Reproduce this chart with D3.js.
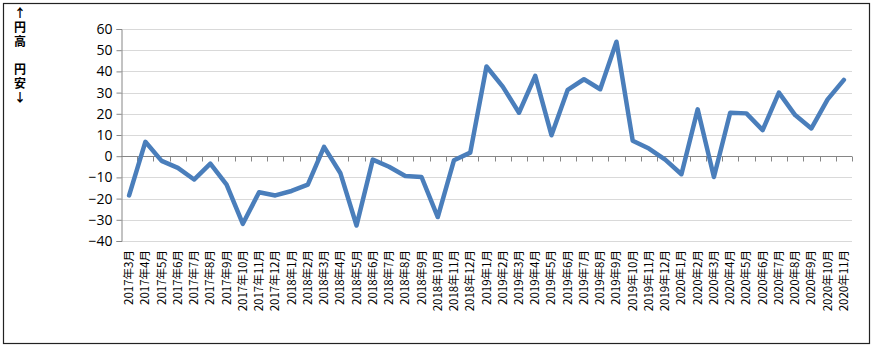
<!DOCTYPE html>
<html>
<head>
<meta charset="utf-8">
<script src="https://cdn.jsdelivr.net/npm/d3@7"></script>
<style>
	body { margin: 0; background: #fff; }
	svg { display: block; }
	.ytick text { font-family: "Open Sans", "Liberation Sans", sans-serif; font-size: 14px; fill: #000; }
	.xlab { font-family: "Noto Sans CJK JP", sans-serif; font-size: 11.5px; fill: #000; }
	.side { font-family: "Noto Sans CJK JP", sans-serif; font-size: 12px; font-weight: bold; writing-mode: vertical-rl; text-orientation: upright; letter-spacing: 2px; }
</style>
</head>
<body>
<div id="chart"></div>
<script>
	// data
	const months = [
		"2017年3月", "2017年4月", "2017年5月", "2017年6月", "2017年7月", "2017年8月", "2017年9月", "2017年10月", "2017年11月", "2017年12月",
		"2018年1月", "2018年2月", "2018年3月", "2018年4月", "2018年5月", "2018年6月", "2018年7月", "2018年8月", "2018年9月", "2018年10月", "2018年11月", "2018年12月",
		"2019年1月", "2019年2月", "2019年3月", "2019年4月", "2019年5月", "2019年6月", "2019年7月", "2019年8月", "2019年9月", "2019年10月", "2019年11月", "2019年12月",
		"2020年1月", "2020年2月", "2020年3月", "2020年4月", "2020年5月", "2020年6月", "2020年7月", "2020年8月", "2020年9月", "2020年10月", "2020年11月"
	];
	const values = [
		-18.5, 6.8, -2.2, -5.5, -11, -3.5, -13.4, -31.9, -17, -18.5,
		-16.4, -13.4, 4.4, -7.9, -32.7, -1.6, -5, -9.3, -9.8, -28.7, -1.9, 1.7,
		42.3, 32.8, 20.5, 37.9, 9.9, 31.3, 36.3, 31.6, 54, 7.3, 3.6, -1.6,
		-8.5, 22.1, -9.8, 20.5, 20.2, 12.3, 30, 19.4, 13.1, 26.8, 36
	];
	const yTicks = [-40, -30, -20, -10, 0, 10, 20, 30, 40, 50, 60];
	const sideLabel = "↑円高　円安↓";

	const width = 876;
	const height = 350;
	const margin = { top: 29, right: 24, bottom: 109, left: 121 };

	const svg = d3
		.select("#chart")
		.append("svg")
		.attr("width", width)
		.attr("height", height);

	// frame
	svg.append("rect")
		.attr("x", 3.5)
		.attr("y", 3.5)
		.attr("width", 866)
		.attr("height", 340)
		.attr("fill", "none")
		.attr("stroke", "#222")
		.attr("stroke-width", 1.2);

	const xScale = d3
		.scaleBand()
		.domain(months)
		.range([margin.left, width - margin.right]);

	const yScale = d3
		.scaleLinear()
		.domain([-40, 60])
		.range([height - margin.bottom, margin.top]);

	// gridlines
	yTicks.forEach((t) => {
		svg.append("line")
			.attr("x1", margin.left)
			.attr("x2", width - margin.right)
			.attr("y1", Math.round(yScale(t)) + 0.5)
			.attr("y2", Math.round(yScale(t)) + 0.5)
			.attr("stroke", "#d9d9d9")
			.attr("stroke-width", 1);
	});

	// y axis
	const yAxis = d3.axisLeft(yScale).tickValues(yTicks).tickSize(5).tickPadding(4);
	const yg = svg.append("g")
		.attr("class", "ytick")
		.attr("transform", `translate(${margin.left + 0.5}, 0)`)
		.call(yAxis);
	yg.select(".domain").attr("stroke", "#868686");
	yg.selectAll(".tick line").attr("stroke", "#868686");

	// x axis at zero, ticks at category boundaries
	const zeroY = Math.round(yScale(0)) + 0.5;
	svg.append("line")
		.attr("x1", margin.left)
		.attr("x2", width - margin.right)
		.attr("y1", zeroY)
		.attr("y2", zeroY)
		.attr("stroke", "#868686");
	months.forEach((m) => {
		const x = Math.round(xScale(m) + xScale.bandwidth()) + 0.5;
		svg.append("line")
			.attr("x1", x)
			.attr("x2", x)
			.attr("y1", zeroY)
			.attr("y2", zeroY + 5)
			.attr("stroke", "#868686");
	});

	// x labels at bottom
	months.forEach((m) => {
		const cx = xScale(m) + xScale.bandwidth() / 2;
		svg.append("text")
			.attr("class", "xlab")
			.attr("transform", `translate(${cx + 4}, 250) rotate(-90)`)
			.attr("text-anchor", "end")
			.text(m);
	});

	// line
	const line = d3
		.line()
		.x((d, i) => xScale(months[i]) + xScale.bandwidth() / 2)
		.y((d) => yScale(d));
	svg.append("path")
		.datum(values)
		.attr("d", line)
		.attr("fill", "none")
		.attr("stroke", "#4a7ebb")
		.attr("stroke-width", 4.5)
		.attr("stroke-linejoin", "round")
		.attr("stroke-linecap", "round");

	// side label, vertical text
	svg.append("text")
		.attr("class", "side")
		.attr("x", 20)
		.attr("y", 7)
		.text(sideLabel);
</script>
</body>
</html>
